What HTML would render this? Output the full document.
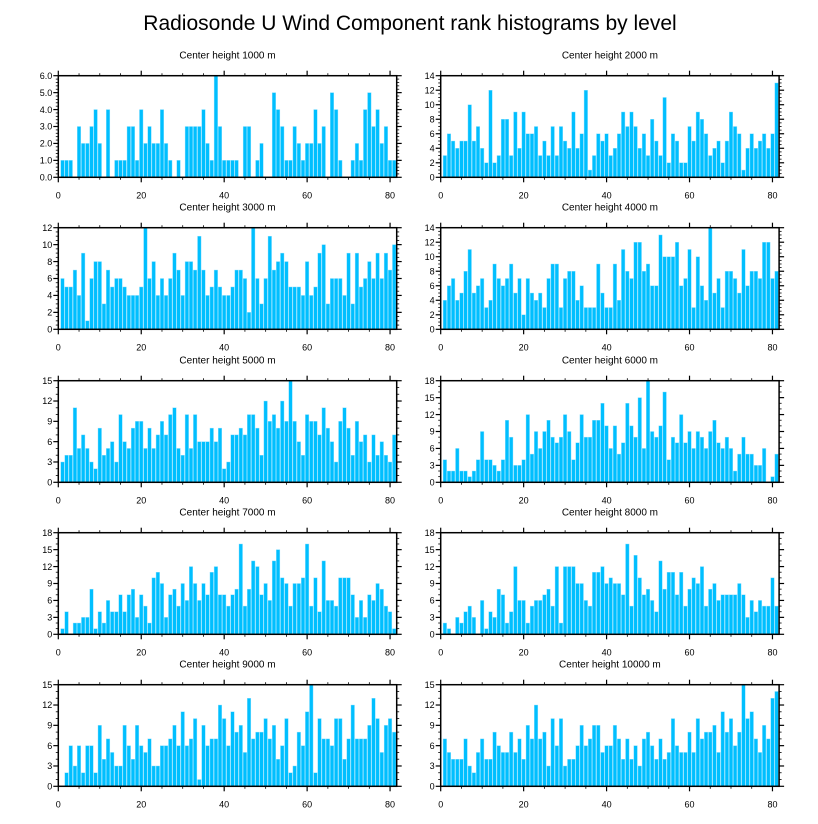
<!DOCTYPE html>
<html><head><meta charset="utf-8"><title>Rank histograms</title>
<style>
html,body{margin:0;padding:0;background:#fff;}
svg{display:block;font-family:"Liberation Sans",Arial,sans-serif;}
</style></head>
<body>
<svg id="chart" width="818" height="824" viewBox="0 0 818 824" xmlns="http://www.w3.org/2000/svg">
<text x="410" y="30" font-size="21" text-anchor="middle">Radiosonde U Wind Component rank histograms by level</text>
</svg>
<script>
const titles = ["Center height 1000 m","Center height 2000 m","Center height 3000 m","Center height 4000 m","Center height 5000 m","Center height 6000 m","Center height 7000 m","Center height 8000 m","Center height 9000 m","Center height 10000 m"];
const yMaxes = [6,14,12,14,15,18,18,18,15,15];
const yMajorSteps = [1,2,2,2,3,3,3,3,3,3];
const yDecimals = [1,0,0,0,0,0,0,0,0,0];
const xTicks = [0,20,40,60,80];
const h1000 = [1,1,1,0,3,2,2,3,4,2,0,4,0,1,1,1,3,3,1,4,2,3,2,2,4,2,1,0,1,0,3,3,3,3,4,2,1,6,3,1,1,1,1,0,3,3,0,1,2,0,0,5,4,3,1,1,3,2,1,2,2,4,2,3,0,5,4,1,0,0,1,2,1,4,5,3,4,2,3,1,1];
const h2000 = [3,6,5,4,5,5,10,5,7,4,2,12,2,3,8,8,3,9,4,9,6,6,7,3,5,3,7,3,7,5,4,9,4,6,12,1,3,6,5,6,3,4,6,9,7,9,7,4,6,3,8,5,3,11,2,6,5,2,2,7,5,9,8,6,3,4,5,2,5,9,7,6,1,4,6,4,5,6,4,6,13];
const h3000 = [6,5,5,7,4,9,1,6,8,8,3,7,5,6,6,5,4,4,4,5,12,6,8,4,6,4,6,9,7,4,8,8,7,11,7,4,5,7,5,4,4,5,7,7,6,2,12,6,3,6,11,7,8,9,8,5,5,5,4,8,4,5,9,10,3,6,6,6,4,9,3,9,5,6,8,6,9,6,9,7,10];
const h4000 = [4,6,7,4,5,8,11,5,6,7,3,4,9,7,6,7,9,5,7,2,7,5,4,5,3,7,9,9,3,7,8,8,4,6,3,3,3,9,5,3,3,9,4,11,8,7,12,12,8,9,6,6,13,10,10,10,12,6,7,11,3,10,6,4,14,5,7,3,8,8,7,5,11,6,8,8,7,12,12,7,8];
const h5000 = [3,4,4,11,5,7,5,3,2,8,4,5,6,3,10,6,5,8,9,9,5,8,5,7,9,7,10,11,5,4,10,5,10,6,6,6,8,6,8,2,3,7,7,8,7,10,10,8,4,12,9,10,8,12,9,15,9,6,4,10,9,9,7,11,8,6,3,9,11,8,4,9,6,7,3,7,4,6,4,3,7];
const h6000 = [4,2,2,6,2,2,1,2,4,9,4,4,3,2,4,11,8,3,3,4,12,5,9,6,9,11,8,7,8,12,9,4,7,12,8,8,11,11,14,10,6,10,5,7,14,10,8,15,6,18,9,8,10,16,4,8,7,12,7,9,6,9,8,6,9,11,7,6,8,6,2,5,8,5,5,3,3,6,0,1,5];
const h7000 = [1,4,0,2,2,3,3,8,1,4,2,6,4,4,7,4,7,8,3,7,5,2,10,11,9,3,7,8,5,9,6,12,9,6,9,7,11,12,7,7,5,7,8,16,5,8,13,12,7,9,6,13,15,10,9,5,9,9,10,16,5,10,4,13,6,6,5,10,10,10,7,3,6,3,7,6,9,8,5,4,1];
const h8000 = [2,1,0,3,2,4,5,3,0,6,1,4,3,8,7,2,4,12,6,6,2,5,6,6,7,8,5,12,2,12,12,12,9,9,6,5,11,11,12,9,10,9,9,7,16,5,14,10,7,8,6,4,13,8,11,11,7,11,5,8,10,9,12,5,8,9,6,7,7,7,7,9,7,3,6,4,6,5,5,10,5];
const h9000 = [0,2,6,3,6,2,6,6,2,9,4,7,5,3,3,9,6,4,9,6,5,7,3,3,6,6,7,9,6,11,6,7,10,1,9,6,7,7,12,10,6,11,8,9,5,13,7,8,8,10,7,9,4,6,10,2,3,8,6,11,15,2,10,7,7,6,10,10,4,7,12,7,7,7,9,13,10,5,9,10,8];
const h10000 = [7,5,4,4,4,7,3,2,5,7,4,4,8,6,5,5,8,5,7,4,9,7,12,7,8,3,10,6,10,3,4,4,6,9,6,7,9,9,5,6,6,9,7,4,7,4,6,3,7,8,6,4,7,4,5,10,6,5,5,8,5,10,7,8,8,9,5,11,8,10,6,8,15,10,11,7,5,9,7,13,14];
const seriesList = [h1000,h2000,h3000,h4000,h5000,h6000,h7000,h8000,h9000,h10000];

const NS = "http://www.w3.org/2000/svg";
const svg = document.getElementById("chart");
const colX0 = [58.3, 440.7];
const rowTop = [75.7, 227.7, 380.7, 532.7, 684.7];
const plotW = 338.4, plotH = 101.6, xMax = 81.6;

function mk(tag, attrs, parent) {
  const el = document.createElementNS(NS, tag);
  for (const k in attrs) el.setAttribute(k, attrs[k]);
  parent.appendChild(el);
  return el;
}

seriesList.forEach((vals, p) => {
  const col = p % 2, row = Math.floor(p / 2);
  const x0 = colX0[col], top = rowTop[row], bottom = top + plotH;
  const yMax = yMaxes[p];
  const xs = v => x0 + v / xMax * plotW;
  const ys = v => bottom - v / yMax * plotH;
  const g = mk("g", {}, svg);
  
  

  const t = mk("text", {x: x0 + plotW / 2, y: top - 17, "font-size": 10, "text-anchor": "middle"}, g);
  t.textContent = titles[p];
  
  

  const uw = plotW / xMax;
  vals.forEach((v, i) => {
    if (v <= 0) return;
    const k = i + 1;
    const r = mk("rect", {x: xs(k - 0.5) + 0.3, y: ys(v), width: uw - 0.6, height: bottom - ys(v), fill: "#00bfff", stroke: "#8fe0ff", "stroke-width": 0.4}, g);
    
    
  });

  const box = mk("rect", {x: x0, y: top, width: plotW, height: plotH, fill: "none", stroke: "#000", "stroke-width": 1.5}, g);
  
  

  for (let v = 0; v <= xMax; v += 5) {
    const major = v % 20 === 0;
    const len = major ? 5 : 2.5;
    const x = xs(v);
    mk("line", {x1: x, x2: x, y1: bottom, y2: bottom + len, stroke: "#000", "stroke-width": major ? 1.2 : 0.8}, g);
    mk("line", {x1: x, x2: x, y1: top, y2: top - len, stroke: "#000", "stroke-width": major ? 1.2 : 0.8}, g);
  }
  xTicks.forEach(v => {
    const tl = mk("text", {x: xs(v), y: bottom + 21, "font-size": 9, "text-anchor": "middle"}, g);
    tl.textContent = v;
    
    
  });

  const step = yMajorSteps[p];
  const minor = step === 1 ? 0.2 : (step === 2 ? 0.5 : 1);
  const nMinor = Math.round(yMax / minor);
  for (let j = 0; j <= nMinor; j++) {
    const v = j * minor;
    const isMajor = Math.abs(v / step - Math.round(v / step)) < 1e-6;
    const len = isMajor ? 5 : 2.5;
    const y = ys(v);
    mk("line", {x1: x0, x2: x0 - len, y1: y, y2: y, stroke: "#000", "stroke-width": isMajor ? 1.2 : 0.8}, g);
    mk("line", {x1: x0 + plotW, x2: x0 + plotW + len, y1: y, y2: y, stroke: "#000", "stroke-width": isMajor ? 1.2 : 0.8}, g);
  }
  for (let v = 0; v <= yMax + 1e-6; v += step) {
    const yl = mk("text", {x: x0 - 6, y: ys(v) + 3.2, "font-size": 9, "text-anchor": "end"}, g);
    yl.textContent = v.toFixed(yDecimals[p]);
    
    
  }
});
</script>
</body></html>
